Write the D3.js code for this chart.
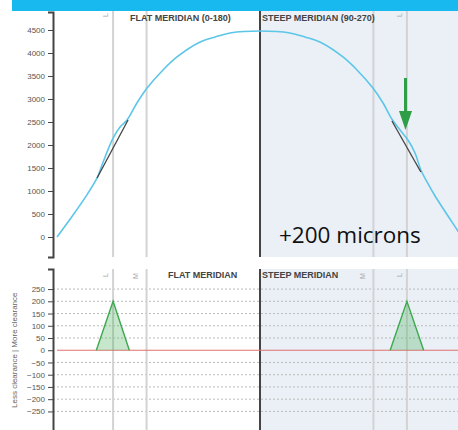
<!DOCTYPE html>
<meta charset="utf-8">
<title>Clearance profile</title>
<style>
    body { margin: 0; background: #fff; }
    svg { display: block; font-family: "Liberation Sans", Arial, sans-serif; }
    .axis path, .axis line { stroke: #444; }
    .axis text { fill: #555; font-size: 8px; }
    .title { fill: #444; font-size: 9px; font-weight: bold; }
    .mark { fill: #aaa; font-size: 7px; }
</style>
<body>
<div id="chart"></div>
<script src="https://d3js.org/d3.v7.min.js"></script>
<script>
// chord position in mm, sag in microns
var eyeX = [-8, -7.45, -6.9, -6.42, -6.19, -5.79, -5.5, -5.24, -4.85, -4.45, -3.86, -3.27, -2.36, -1.77, -1.18, 0,
            1.18, 1.77, 2.36, 3.27, 3.86, 4.45, 4.85, 5.2, 5.52, 5.83, 6.11, 6.34, 6.62, 6.9, 7.8, 8.1];
var eyeY = [0, 413, 850, 1283, 1620, 2150, 2400, 2543, 2913, 3239, 3609, 3913, 4239, 4348, 4435, 4478,
            4435, 4348, 4239, 3913, 3609, 3239, 2913, 2560, 2326, 2109, 1826, 1457, 1160, 891, 130, -120];
var lensLeftX = [-6.42, -5.2];
var lensLeftY = [1283, 2543];
var lensRightX = [5.2, 6.34];
var lensRightY = [2522, 1413];

var topTicks = [0, 500, 1000, 1500, 2000, 2500, 3000, 3500, 4000, 4500];
var botTicks = [-250, -200, -150, -100, -50, 0, 50, 100, 150, 200, 250];

var clearLeftX = [-6.45, -5.79, -5.15];
var clearLeftY = [0, 200, 0];
var clearRightX = [5.13, 5.79, 6.45];
var clearRightY = [0, 200, 0];

var markL = 5.79, markM = 4.47;

var width = 458, height = 430;
var plotLeft = 53, plotRight = 458;

var svg = d3.select("#chart").append("svg")
    .attr("width", width).attr("height", height);

var x = d3.scaleLinear().domain([-8, 8]).range([57, 463]);
var yTop = d3.scaleLinear().domain([-435, 4891]).range([257, 12]);
var yBot = d3.scaleLinear().domain([-330, 332]).range([431, 269]);

svg.append("clipPath").attr("id", "clip")
    .append("rect").attr("x", plotLeft).attr("y", 0).attr("width", plotRight - plotLeft).attr("height", height);

// header bar
svg.append("rect").attr("x", 12).attr("y", 0).attr("width", 446).attr("height", 11).style("fill", "#17b9ee");

// steep meridian shading
[[11, 257], [269, 430]].forEach(function (r) {
    svg.append("rect")
        .attr("x", x(0)).attr("y", r[0])
        .attr("width", plotRight - x(0)).attr("height", r[1] - r[0])
        .style("fill", "#eaf0f6");
});

// bottom grid
svg.append("g").selectAll("line").data(botTicks.filter(d => d !== 0)).enter().append("line")
    .attr("x1", plotLeft).attr("x2", plotRight)
    .attr("y1", d => yBot(d)).attr("y2", d => yBot(d))
    .style("stroke", "#bbb").style("stroke-dasharray", "2,2").style("stroke-width", 1);

// vertical marker lines
var vlines = [-markL, -markM, markM, markL];
[[11, 257], [269, 430]].forEach(function (r) {
    svg.append("g").selectAll("line").data(vlines).enter().append("line")
        .attr("x1", d => x(d)).attr("x2", d => x(d))
        .attr("y1", r[0]).attr("y2", r[1])
        .style("stroke", "#d3d3d3").style("stroke-width", 2);
    svg.append("line")
        .attr("x1", x(0)).attr("x2", x(0)).attr("y1", r[0]).attr("y2", r[1])
        .style("stroke", "#444").style("stroke-width", 2);
});

// L / M marks
function mark(t, xv, yv) {
    svg.append("text").attr("class", "mark")
        .attr("transform", "translate(" + x(xv) + "," + yv + ") rotate(-90)")
        .attr("text-anchor", "middle")
        .text(t);
}
mark("L", -markL - 0.2, 15);
mark("L", markL - 0.2, 15);
mark("L", -markL - 0.2, 275);
mark("M", -markM - 0.35, 276);
mark("M", markM - 0.35, 276);
mark("L", markL - 0.2, 275);

// titles
svg.append("text").attr("class", "title").attr("x", 130).attr("y", 21).text("FLAT MERIDIAN (0-180)");
svg.append("text").attr("class", "title").attr("x", 262).attr("y", 21).text("STEEP MERIDIAN (90-270)");
svg.append("text").attr("class", "title").attr("x", 168).attr("y", 278).text("FLAT MERIDIAN");
svg.append("text").attr("class", "title").attr("x", 262).attr("y", 278).text("STEEP MERIDIAN");

// eye curve
var lineTop = d3.line().x(d => x(d[0])).y(d => yTop(d[1])).curve(d3.curveCatmullRom.alpha(0.5));
svg.append("path")
    .datum(d3.zip(eyeX, eyeY))
    .attr("clip-path", "url(#clip)")
    .attr("d", lineTop)
    .style("fill", "none").style("stroke", "#5cc6e8").style("stroke-width", 1.6);

// lens segments
[[lensLeftX, lensLeftY], [lensRightX, lensRightY]].forEach(function (s) {
    svg.append("path")
        .datum(d3.zip(s[0], s[1]))
        .attr("d", d3.line().x(d => x(d[0])).y(d => yTop(d[1])))
        .style("fill", "none").style("stroke", "#444").style("stroke-width", 1.3);
});

// zero line
svg.append("line")
    .attr("x1", x(-8)).attr("x2", plotRight)
    .attr("y1", yBot(0)).attr("y2", yBot(0))
    .style("stroke", "#e07070").style("stroke-width", 1.2);

// clearance triangles
var lineBot = d3.line().x(d => x(d[0])).y(d => yBot(d[1]));
[[clearLeftX, clearLeftY], [clearRightX, clearRightY]].forEach(function (s) {
    svg.append("path")
        .datum(d3.zip(s[0], s[1]))
        .attr("d", lineBot)
        .style("fill", "rgba(70,175,90,0.3)").style("stroke", "#3ea84f").style("stroke-width", 1.4);
});

// axes
svg.append("g").attr("class", "axis")
    .attr("transform", "translate(" + plotLeft + ",0)")
    .call(d3.axisLeft(yTop).tickValues(topTicks).tickFormat(d3.format("d")).tickSize(5).tickSizeOuter(5))
    .call(g => g.select(".domain").style("stroke-width", 2));
svg.append("g").attr("class", "axis")
    .attr("transform", "translate(" + plotLeft + ",0)")
    .call(d3.axisLeft(yBot).tickValues(botTicks).tickFormat(d3.format("d")).tickSize(5).tickSizeOuter(5))
    .call(g => g.select(".domain").style("stroke-width", 2));

svg.append("text")
    .attr("transform", "translate(17," + yBot(0) + ") rotate(-90)")
    .attr("text-anchor", "middle")
    .style("font-size", "8px").style("fill", "#666")
    .text("Less clearance | More clearance");

// annotation
svg.append("text")
    .attr("x", 279).attr("y", 243)
    .style("font-family", "'Open Sans', sans-serif")
    .style("font-size", "22.5px").style("fill", "#111")
    .text("+200 microns");

// arrow
var ax = 405.5;
svg.append("line").attr("x1", ax).attr("x2", ax).attr("y1", 78).attr("y2", 113)
    .style("stroke", "#2f9e47").style("stroke-width", 3);
svg.append("path")
    .attr("d", "M" + (ax - 6.5) + ",111 L" + (ax + 6.5) + ",111 L" + ax + ",130 Z")
    .style("fill", "#2f9e47");
</script>
</body>
